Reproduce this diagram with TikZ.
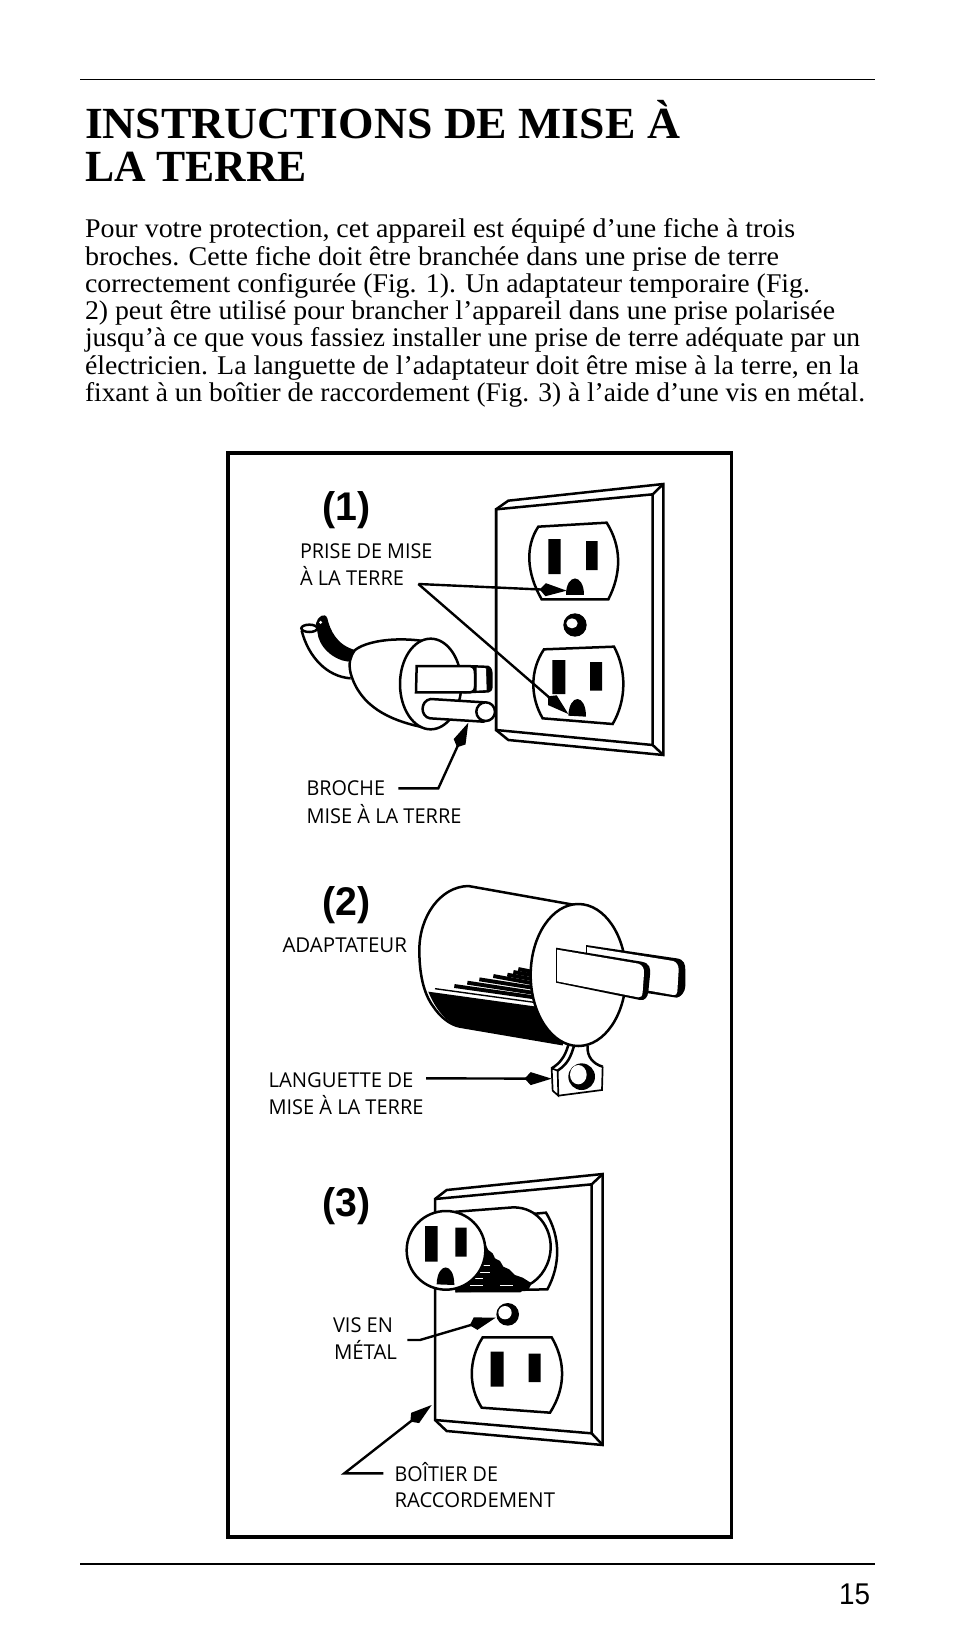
\documentclass[tikz,border=0pt]{standalone}
\usepackage{fontspec}
\usepackage{graphicx}
\setmainfont{Liberation Serif}
\newfontfamily\lblfont{Open Sans}
\newfontfamily\numfont{Liberation Sans}
\usetikzlibrary{arrows.meta}
\newcommand{\fitw}[2]{\resizebox{#1pt}{\height}{#2}}
\tikzset{
  txt/.style={anchor=base west,inner sep=0pt,outer sep=0pt,text=black},
  bodytxt/.style={txt,font=\fontsize{27}{27}\selectfont},
  titletxt/.style={txt,font=\fontsize{44.5}{44.5}\selectfont\bfseries},
  lbl/.style={txt,font=\lblfont\fontsize{20.5}{20.5}\selectfont},
  fignum/.style={txt,font=\numfont\fontsize{40}{40}\selectfont\bfseries},
  pageno/.style={txt,font=\numfont\fontsize{30}{30}\selectfont},
  rulel/.style={line width=1.5pt},
  frameb/.style={line width=3.2pt},
  ink/.style={line width=2.5pt,line join=miter},
  inkw/.style={ink,fill=white},
  callout/.style={line width=2.4pt,line join=miter,-{Kite[length=27pt,width=13pt,inset=6pt]}},
}
\begin{document}
\begin{tikzpicture}[x=1pt,y=-1pt]
\useasboundingbox (0,0) rectangle (954,1643);
\fill[white] (0,0) rectangle (954,1643);
\coordinate (rt1) at (80,79.5); \coordinate (rt2) at (875,79.5);
\draw[rulel] (rt1) -- (rt2);
\coordinate (rb1) at (80,1564); \coordinate (rb2) at (875,1564);
\draw[rulel] (rb1) -- (rb2);
\node[pageno] (page) at (839,1604.5) {\fitw{31}{15}};
\node[titletxt] (title1) at (85,139) {\fitw{595}{INSTRUCTIONS DE MISE À}};
\node[titletxt] (title2) at (85,181) {\fitw{222}{LA TERRE}};
\node[bodytxt] (b1) at (85,237.7) {\fitw{710}{Pour votre protection, cet appareil est équipé d’une fiche à trois}};
\node[bodytxt] (b2) at (85,265) {\fitw{694}{broches. Cette fiche doit être branchée dans une prise de terre}};
\node[bodytxt] (b3) at (85,292) {\fitw{725}{correctement configurée (Fig. 1). Un adaptateur temporaire (Fig.}};
\node[bodytxt] (b4) at (85,319.3) {\fitw{750}{2) peut être utilisé pour brancher l’appareil dans une prise polarisée}};
\node[bodytxt] (b5) at (85,346.7) {\fitw{775}{jusqu’à ce que vous fassiez installer une prise de terre adéquate par un}};
\node[bodytxt] (b6) at (85,374) {\fitw{774}{électricien. La languette de l’adaptateur doit être mise à la terre, en la}};
\node[bodytxt] (b7) at (85,401) {\fitw{780}{fixant à un boîtier de raccordement (Fig. 3) à l’aide d’une vis en métal.}};
\draw[frameb] (228,453) rectangle (731.5,1537);

% ---------- figure 1
\begin{scope}[shift={(280,460)},x=0.33333pt,y=-0.33333pt]
 \filldraw[inkw] (648,148) -- (685,122) -- (1150,72) -- (1150,885) -- (685,840) -- (648,810) -- cycle;
 \draw[ink] (648,148) -- (1118,103) -- (1118,855) -- (648,810) -- cycle;
 \draw[ink] (1118,103) -- (1150,72) (1118,855) -- (1150,885);
 % upper receptacle
 \draw[ink] (775,200) -- (980,188) .. controls (1025,260) and (1025,340) .. (985,418) -- (785,418) .. controls (740,340) and (735,260) .. (775,200) -- cycle;
 \fill (805,237) rectangle (842,342) (918,243) rectangle (953,330);
 \fill (858,405) .. controls (858,340) and (912,340) .. (912,405) -- cycle;
 % screw
 \fill (885,495) circle [radius=35];
 \fill[white] (876,490) ellipse [x radius=17,y radius=15];
 % lower receptacle
 \draw[ink] (792,568) -- (1002,560) .. controls (1040,630) and (1040,720) .. (998,792) -- (788,775) .. controls (750,710) and (750,630) .. (792,568) -- cycle;
 \fill (817,600) rectangle (856,702) (930,606) rectangle (966,692);
 \fill (865,767) .. controls (868,700) and (918,700) .. (918,770) -- cycle;
 % plug body
 \filldraw[inkw] (225,570) .. controls (270,535) and (400,525) .. (500,560) -- (420,800) .. controls (330,780) and (240,740) .. (212,640) .. controls (205,610) and (210,590) .. (225,570) -- cycle;
 % cord
 \fill (108,490) .. controls (112,470) and (135,455) .. (142,475) .. controls (150,510) and (170,555) .. (225,570) -- (205,605) .. controls (160,600) and (115,560) .. (112,515) -- cycle;
 \draw[ink] (65,512) .. controls (85,590) and (140,650) .. (212,655);
 \filldraw[ink,fill=white] (88,505) ellipse [x radius=24,y radius=11];
 \fill[white] (122,487) circle [radius=5];
 \filldraw[inkw] (452,672) ellipse [x radius=92,y radius=136];
 % blades
 \fill (575,615) -- (625,617) .. controls (635,622) and (638,630) .. (638,645) -- (638,680) .. controls (638,690) and (632,698) .. (625,698) -- (550,700) -- cycle;
 \fill[white] (590,623) -- (618,625) -- (620,690) -- (590,692) -- cycle;
 \filldraw[inkw] (410,618) -- (570,618) .. controls (582,620) and (585,628) .. (585,640) -- (585,680) .. controls (585,690) and (580,696) .. (570,697) -- (408,697) -- cycle;
 % ground pin
 \filldraw[inkw] (452,717) -- (612,727) -- (610,785) -- (450,775) .. controls (420,770) and (420,722) .. (452,717) -- cycle;
 \filldraw[inkw] (617,755) circle [radius=28];
 % callouts
 \coordinate (apex) at (415,372);
 \coordinate (t1a) at (860,392);
 \coordinate (t1b) at (865,762);
 \draw[callout] (apex) -- (t1a);
 \draw[callout] (apex) -- (t1b);
 \coordinate (bs) at (355,985);
 \coordinate (bk) at (475,985);
 \coordinate (bt) at (565,788);
 \draw[callout] (bs) -- (bk) -- (bt);
\end{scope}
\node[fignum] (f1) at (322.5,520.7) {\fitw{48}{(1)}};
\node[lbl] (l1a) at (300,558.4) {\fitw{132.5}{PRISE DE MISE}};
\node[lbl] (l1b) at (300,585.7) {\fitw{104}{À LA TERRE}};
\node[lbl] (l1c) at (306.5,795.7) {\fitw{78.5}{BROCHE}};
\node[lbl] (l1d) at (306.5,823.4) {\fitw{155}{MISE À LA TERRE}};

% ---------- figure 2
\begin{scope}[shift={(260,860)},x=0.33333pt,y=-0.33333pt]
 % tab
 \draw[ink] (925,555) .. controls (915,590) and (900,610) .. (875,625);
 \draw[ink] (942,558) .. controls (932,590) and (925,610) .. (893,632);
 \draw[ink] (983,558) .. controls (980,590) and (1000,612) .. (1028,620);
 \draw[line width=1.7pt] (875,625) -- (893,632) -- (895,707) -- (878,692) -- cycle;
 \draw[line width=1.7pt] (1028,620) -- (1026,690) -- (895,707);
 \fill (965,650) ellipse [x radius=40,y radius=40];
 \fill[white] (955,644) ellipse [x radius=25,y radius=29];
 % body
 \filldraw[inkw] (945,135) -- (625,78) .. controls (540,80) and (478,170) .. (478,270) .. controls (478,340) and (490,400) .. (520,440) .. controls (540,470) and (570,495) .. (600,500) -- (905,552) -- cycle;
 \fill (505,395) -- (830,440) -- (905,552) -- (600,500) .. controls (560,490) and (525,445) .. (505,395) -- cycle;
 \draw[line width=1.4pt] (525,386) -- (830,428);
 \draw[line width=3.9pt] (583,378) -- (830,413);
 \draw[line width=3.9pt] (622,368) -- (830,400);
 \draw[line width=3.9pt] (658,358) -- (830,385);
 \draw[line width=3.9pt] (700,348) -- (830,372);
 \draw[line width=3.9pt] (742,344) -- (830,360);
 \draw[line width=3.9pt] (760,336) -- (830,348);
 \draw[line width=3.9pt] (775,327) -- (830,338);
 \filldraw[inkw] (955,345) ellipse [x radius=143,y radius=213];
 % blades
 \fill (978,255) -- (1250,295) .. controls (1272,298) and (1276,312) .. (1276,330) -- (1276,378) .. controls (1276,395) and (1262,412) .. (1250,413) -- (1100,390) -- (978,290) -- cycle;
 \fill[white] (981,261) -- (1240,303) .. controls (1252,308) and (1256,318) .. (1256,330) -- (1252,395) .. controls (1250,403) and (1248,407) .. (1240,405) -- (1100,380) -- (981,290) -- cycle;
 \fill (888,263) -- (1145,305) .. controls (1170,310) and (1172,325) .. (1170,345) -- (1165,395) .. controls (1163,412) and (1155,422) .. (1140,420) -- (888,368) -- cycle;
 \fill[white] (891,269) -- (1135,311) .. controls (1148,316) and (1153,325) .. (1152,340) -- (1148,395) .. controls (1147,408) and (1143,414) .. (1135,412) -- (891,364) -- cycle;
 % callout
 \coordinate (ls) at (498,655);
 \coordinate (lt) at (875,656);
 \draw[callout] (ls) -- (lt);
\end{scope}
\node[fignum] (f2) at (322.5,915) {\fitw{48}{(2)}};
\node[lbl] (l2a) at (282.5,952.4) {\fitw{124.5}{ADAPTATEUR}};
\node[lbl] (l2b) at (268.5,1087.4) {\fitw{145}{LANGUETTE DE}};
\node[lbl] (l2c) at (268.5,1114.4) {\fitw{155}{MISE À LA TERRE}};

% ---------- figure 3
\begin{scope}[shift={(300,1150)},x=0.33333pt,y=-0.33333pt]
 \filldraw[inkw] (405,147) -- (440,120) -- (908,72) -- (908,885) -- (440,843) -- (405,810) -- cycle;
 \draw[ink] (405,147) -- (875,103) -- (875,850) -- (405,810);
 \draw[ink] (875,103) -- (908,72) (875,850) -- (908,885);
 % adapter behind
 \filldraw[inkw] (695,192) -- (738,188) .. controls (782,260) and (782,345) .. (742,418) -- (470,423) -- (470,300) -- cycle;
 \filldraw[inkw] (470,185) -- (640,172) .. controls (715,172) and (752,235) .. (752,290) .. controls (752,340) and (725,385) .. (685,405) -- (660,423) -- (470,423) -- cycle;
 \fill (555,280) -- (565,300) -- (578,310) -- (585,325) -- (600,333) -- (610,350) -- (628,358) -- (645,375) -- (668,383) -- (695,400) -- (685,420) -- (470,423) -- cycle;
 \draw[white,line width=0.2pt] (540,345) -- (570,345) (530,365) -- (570,365) (520,385) -- (550,385) (600,405) -- (640,405) (510,405) -- (550,405);
 \filldraw[inkw] (438,301) circle [radius=118];
 \fill (375,228) rectangle (413,335) (466,233) rectangle (500,320);
 \fill (410,403) .. controls (412,335) and (463,335) .. (463,405) -- cycle;
 % screw
 \fill (623,493) circle [radius=34];
 \fill[white] (615,488) circle [radius=20];
 % receptacle
 \draw[ink] (548,562) -- (755,562) .. controls (795,630) and (800,710) .. (750,788) -- (545,773) .. controls (505,710) and (505,630) .. (548,562) -- cycle;
 \fill (572,605) rectangle (611,710) (686,611) rectangle (722,696);
 % callouts
 \coordinate (vs) at (322,570);
 \coordinate (vk) at (360,570);
 \coordinate (vt) at (587,503);
 \draw[callout] (vs) -- (vk) -- (vt);
 \coordinate (rs) at (250,970);
 \coordinate (rk) at (133,970);
 \coordinate (rt) at (395,765);
 \draw[callout] (rs) -- (rk) -- (rt);
\end{scope}
\node[fignum] (f3) at (322.5,1216) {\fitw{48}{(3)}};
\node[lbl] (l3a) at (333,1332.4) {\fitw{60}{VIS EN}};
\node[lbl] (l3b) at (334,1359.4) {\fitw{63}{MÉTAL}};
\node[lbl] (l3c) at (394.5,1481.4) {\fitw{103.5}{BOÎTIER DE}};
\node[lbl] (l3d) at (394.5,1507.7) {\fitw{160.5}{RACCORDEMENT}};
\end{tikzpicture}
\end{document}
